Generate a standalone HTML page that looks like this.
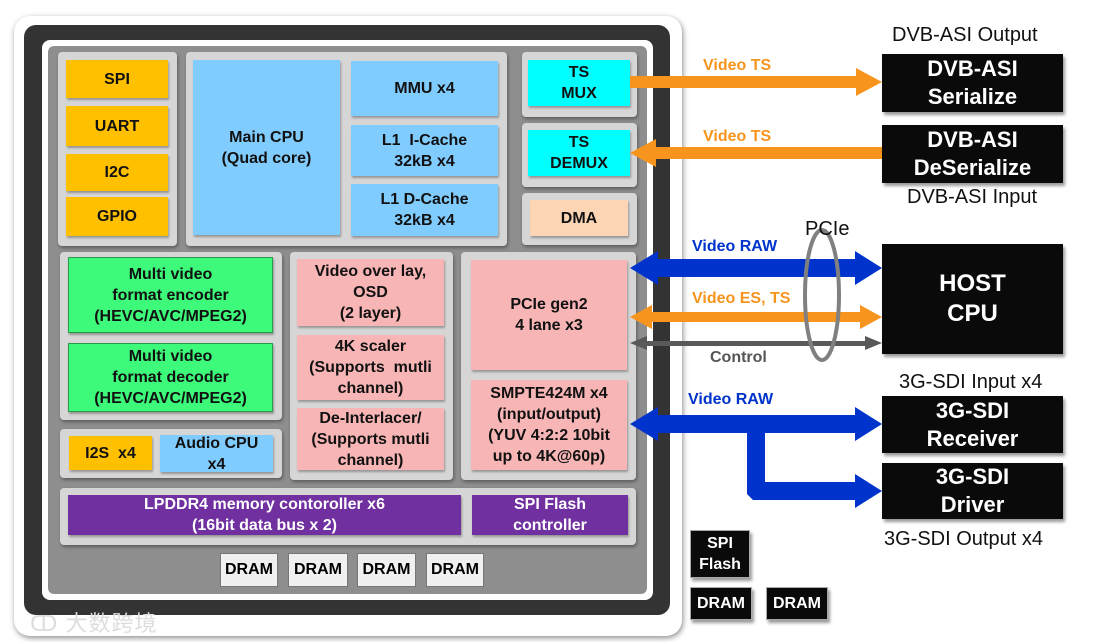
<!DOCTYPE html>
<html><head><meta charset="utf-8"><style>
body{margin:0;width:1100px;height:642px;background:#fff;position:relative;overflow:hidden;font-family:"Liberation Sans","Noto Sans CJK SC",sans-serif}
.a{position:absolute;box-sizing:border-box}
.p{position:absolute;background:#d6d6d6;border-radius:4px;box-shadow:1px 2px 3px rgba(0,0,0,.35)}
.b{position:absolute;box-sizing:border-box;display:flex;align-items:center;justify-content:center;text-align:center;font-weight:bold;font-size:16px;line-height:21px;color:#111;box-shadow:1px 2px 2px rgba(0,0,0,.3)}
.o{background:#ffc000}.bl{background:#80ccff}.c{background:#00ffff}.g{background:#3dfa7a;border:1px solid #2a9a4a}.pk{background:#f7b5b5}.pu{background:#7030a0;color:#fff}
.k{position:absolute;box-sizing:border-box;background:#0a0a0a;color:#fff;display:flex;align-items:center;justify-content:center;text-align:center;font-weight:bold;font-size:22px;line-height:28px;box-shadow:2px 3px 3px rgba(0,0,0,.4)}
.d{position:absolute;box-sizing:border-box;background:#f0f0f0;border:1px solid #777;font-weight:bold;font-size:16px;display:flex;align-items:center;justify-content:center}
.l{position:absolute;font-size:20px;color:#111;white-space:nowrap}
.t{position:absolute;font-weight:bold;font-size:16px;white-space:nowrap}
</style></head><body>
<div class="a" style="left:14px;top:16px;width:668px;height:620px;background:#fff;border-radius:16px;box-shadow:1px 2px 6px rgba(0,0,0,.45)"></div>
<div class="a" style="left:24px;top:25px;width:646px;height:590px;background:#333;border-radius:12px"></div>
<div class="a" style="left:42px;top:40px;width:611px;height:560px;background:#fff;border-radius:8px"></div>
<div class="a" style="left:48px;top:46px;width:599px;height:548px;background:#8e8e8e;border-radius:6px"></div>

<div class="p" style="left:58px;top:52px;width:119px;height:194px"></div>
<div class="b o" style="left:66px;top:60px;width:102px;height:38px">SPI</div>
<div class="b o" style="left:66px;top:106px;width:102px;height:40px">UART</div>
<div class="b o" style="left:66px;top:154px;width:102px;height:37px">I2C</div>
<div class="b o" style="left:66px;top:197px;width:102px;height:39px">GPIO</div>

<div class="p" style="left:186px;top:52px;width:321px;height:194px"></div>
<div class="b bl" style="left:193px;top:60px;width:147px;height:175px">Main CPU<br>(Quad core)</div>
<div class="b bl" style="left:351px;top:61px;width:147px;height:55px">MMU x4</div>
<div class="b bl" style="left:351px;top:125px;width:147px;height:51px">L1&nbsp; I-Cache<br>32kB x4</div>
<div class="b bl" style="left:351px;top:184px;width:147px;height:52px">L1 D-Cache<br>32kB x4</div>

<div class="p" style="left:522px;top:52px;width:115px;height:65px"></div>
<div class="b c" style="left:528px;top:60px;width:102px;height:46px">TS<br>MUX</div>
<div class="p" style="left:522px;top:123px;width:115px;height:64px"></div>
<div class="b c" style="left:528px;top:130px;width:102px;height:46px">TS<br>DEMUX</div>
<div class="p" style="left:522px;top:193px;width:115px;height:52px"></div>
<div class="b" style="left:530px;top:200px;width:98px;height:36px;background:#fcd5b4">DMA</div>

<div class="p" style="left:60px;top:252px;width:222px;height:168px"></div>
<div class="b g" style="left:68px;top:257px;width:205px;height:76px">Multi video<br>format encoder<br>(HEVC/AVC/MPEG2)</div>
<div class="b g" style="left:68px;top:343px;width:205px;height:69px">Multi video<br>format decoder<br>(HEVC/AVC/MPEG2)</div>
<div class="p" style="left:60px;top:429px;width:222px;height:49px"></div>
<div class="b o" style="left:69px;top:436px;width:83px;height:34px">I2S&nbsp; x4</div>
<div class="b bl" style="left:160px;top:435px;width:113px;height:37px">Audio CPU<br>x4</div>

<div class="p" style="left:290px;top:252px;width:163px;height:228px"></div>
<div class="b pk" style="left:297px;top:259px;width:147px;height:67px">Video over lay,<br>OSD<br>(2 layer)</div>
<div class="b pk" style="left:297px;top:335px;width:147px;height:65px">4K scaler<br>(Supports&nbsp; mutli<br>channel)</div>
<div class="b pk" style="left:297px;top:408px;width:147px;height:62px">De-Interlacer/<br>(Supports mutli<br>channel)</div>

<div class="p" style="left:461px;top:252px;width:175px;height:228px"></div>
<div class="b pk" style="left:471px;top:260px;width:156px;height:110px">PCIe gen2<br>4 lane x3</div>
<div class="b pk" style="left:471px;top:380px;width:156px;height:90px">SMPTE424M x4<br>(input/output)<br>(YUV 4:2:2 10bit<br>up to 4K@60p)</div>

<div class="p" style="left:60px;top:488px;width:576px;height:57px"></div>
<div class="b pu" style="left:68px;top:495px;width:393px;height:40px">LPDDR4 memory contoroller x6<br>(16bit data bus x 2)</div>
<div class="b pu" style="left:472px;top:495px;width:156px;height:40px">SPI Flash<br>controller</div>

<div class="d" style="left:220px;top:553px;width:58px;height:34px">DRAM</div>
<div class="d" style="left:288px;top:553px;width:60px;height:34px">DRAM</div>
<div class="d" style="left:357px;top:553px;width:59px;height:34px">DRAM</div>
<div class="d" style="left:426px;top:553px;width:58px;height:34px">DRAM</div>

<div class="a" style="left:30px;top:606px;font-size:22px;color:#ddd;letter-spacing:1px">ↀ 大数跨境</div>

<svg class="a" style="left:0;top:0" width="1100" height="642">
<polygon points="630,76 856,76 856,68 882,82 856,96 856,88 630,88" fill="#f7941d"/>
<polygon points="882,147 656,147 656,139 630,153 656,167 656,159 882,159" fill="#f7941d"/>
<polygon points="630,268 658,251 658,259 855,259 855,251 882,268 855,285 855,277 658,277 658,285" fill="#0033cc"/>
<polygon points="630,317 652,305 652,312 860,312 860,305 882,317 860,329 860,322 652,322 652,329" fill="#f7941d"/>
<polygon points="630,343 647,336 647,341 865,341 865,336 882,343 865,350 865,346 647,346 647,350" fill="#595959"/>
<ellipse cx="822" cy="295" rx="17" ry="65" fill="none" stroke="#808080" stroke-width="4"/>
<polygon points="630,424 658,407 658,415 855,415 855,407 882,424 855,441 855,433 765,433 765,482 855,482 855,474 882,491 855,508 855,500 753,500 747,494 747,433 658,433 658,441" fill="#0033cc"/>
</svg>

<div class="t" style="left:703px;top:57px;color:#f7941d">Video TS</div>
<div class="t" style="left:703px;top:128px;color:#f7941d">Video TS</div>
<div class="t" style="left:692px;top:238px;color:#0033cc">Video RAW</div>
<div class="t" style="left:692px;top:290px;color:#f7941d">Video ES, TS</div>
<div class="t" style="left:710px;top:349px;color:#555">Control</div>
<div class="t" style="left:688px;top:391px;color:#0033cc">Video RAW</div>
<div class="l" style="left:805px;top:218px">PCIe</div>

<div class="l" style="left:892px;top:24px">DVB-ASI Output</div>
<div class="k" style="left:882px;top:54px;width:181px;height:58px">DVB-ASI<br>Serialize</div>
<div class="k" style="left:882px;top:125px;width:181px;height:58px">DVB-ASI<br>DeSerialize</div>
<div class="l" style="left:907px;top:186px">DVB-ASI Input</div>
<div class="k" style="left:882px;top:244px;width:181px;height:110px;font-size:24px;line-height:30px">HOST<br>CPU</div>
<div class="l" style="left:899px;top:371px">3G-SDI Input x4</div>
<div class="k" style="left:882px;top:396px;width:181px;height:57px">3G-SDI<br>Receiver</div>
<div class="k" style="left:882px;top:463px;width:181px;height:56px">3G-SDI<br>Driver</div>
<div class="l" style="left:884px;top:528px">3G-SDI Output x4</div>

<div class="k" style="left:690px;top:530px;width:60px;height:48px;font-size:16px;line-height:21px;border:1px solid #aaa">SPI<br>Flash</div>
<div class="k" style="left:690px;top:587px;width:62px;height:33px;font-size:16px;border:1px solid #aaa">DRAM</div>
<div class="k" style="left:766px;top:587px;width:62px;height:33px;font-size:16px;border:1px solid #aaa">DRAM</div>
</body></html>
